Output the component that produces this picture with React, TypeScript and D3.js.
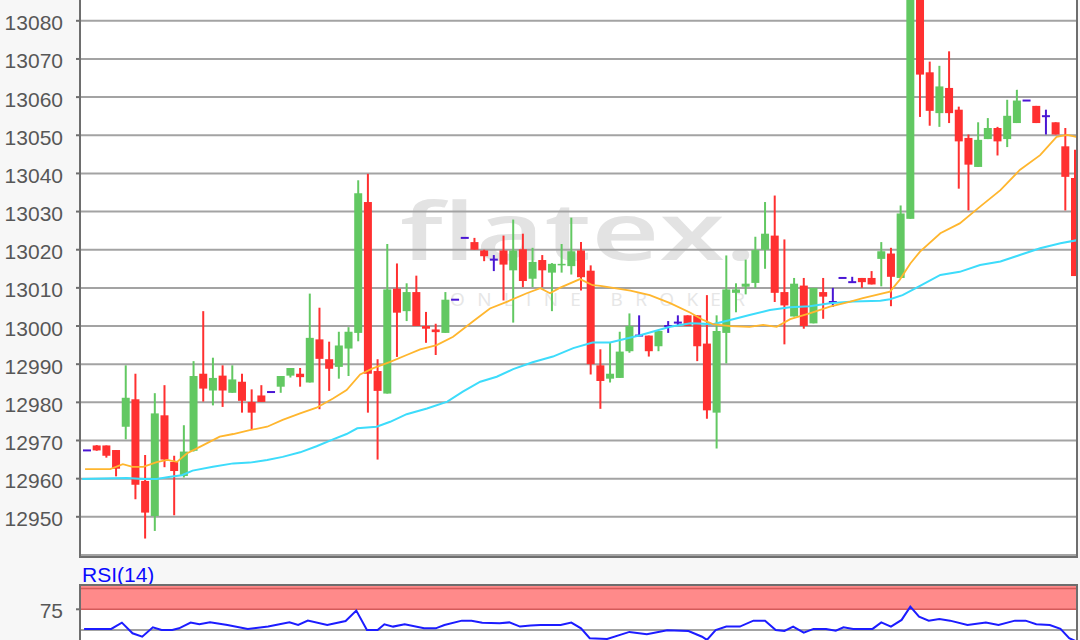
import React from "react";
import * as d3 from "d3";

// ---- price data (OHLC per bar) ----
const opens = [12967.4,12968.7,12968.7,12967.5,12973.6,12980.8,12959.4,12950.2,12976.6,12964.4,12960.7,12967.3,12987.5,12983.1,12987.0,12982.5,12985.4,12980.1,12981.8,12982.7,12984.1,12987.0,12987.5,12985.2,12996.5,12991.3,12989.3,12994.1,12998.2,13032.5,12988.2,12982.3,13009.8,13003.9,13008.9,13000.0,12999.1,12998.2,13006.9,13023.1,13022.0,13019.8,13017.4,13019.8,13014.6,13020.1,13012.4,13017.3,13014.0,13015.9,13015.7,13019.8,13014.5,12989.7,12986.2,12986.4,12993.4,12997.5,12997.5,12994.7,13000.0,13000.9,13002.8,13002.8,12995.4,12977.3,12998.2,13008.7,13010.3,13011.3,13020.0,13023.7,13008.9,13002.5,13010.6,13000.7,13008.9,13006.3,13012.6,13011.5,13012.6,13012.6,13017.6,13019.0,13012.6,13028.1,13093.0,13066.5,13055.8,13062.4,13056.7,13049.3,13041.7,13049.0,13051.9,13049.0,13053.2,13059.1,13057.7,13055.0,13053.4,13047.1,13038.8];
const highs = [12967.4,12968.8,12968.7,12967.5,12989.7,12987.5,12966.2,12982.4,12984.5,12966.0,12974.0,12990.8,13003.9,12991.7,12989.7,12989.7,12987.5,12983.4,12984.5,12982.7,12986.9,12989.0,12989.0,13008.5,13004.8,12995.9,12998.5,12999.7,13038.2,13039.9,12991.3,13021.5,13016.4,13011.2,13013.2,13003.7,13000.6,13008.9,13006.9,13023.1,13023.1,13020.0,13018.6,13023.7,13027.9,13024.2,13020.5,13018.6,13016.5,13021.5,13028.4,13022.0,13015.9,12993.9,12995.6,12998.5,13003.3,13002.8,12997.5,12998.7,13001.3,13002.8,13002.8,13002.8,13008.1,13002.8,13018.5,13011.2,13017.4,13023.4,13032.5,13034.2,13022.7,13012.6,13012.6,13010.0,13012.6,13010.0,13012.6,13012.9,13012.6,13014.4,13022.0,13020.5,13031.6,13100.0,13098.0,13069.3,13068.2,13072.0,13057.5,13050.2,13053.4,13054.5,13052.2,13059.3,13061.9,13059.1,13057.7,13056.7,13053.4,13051.9,13046.2];
const lows = [12967.4,12967.3,12965.5,12960.6,12970.3,12954.6,12944.3,12946.3,12963.0,12950.4,12960.3,12967.1,12980.2,12979.2,12978.8,12982.5,12977.3,12972.9,12980.1,12982.7,12982.5,12986.5,12984.1,12985.2,12978.2,12983.0,12986.2,12986.9,12996.0,12977.3,12965.0,12982.3,12991.9,13001.3,13000.0,12995.6,12992.4,12998.2,13006.9,13023.1,13020.0,13017.0,13014.4,13006.7,13000.9,13010.2,13010.2,13010.2,13003.9,13014.0,13013.5,13009.3,12987.3,12978.3,12985.2,12986.4,12993.0,12997.4,12992.0,12993.4,12998.2,13000.0,13000.0,12990.8,12975.7,12967.9,12990.2,13003.6,13008.3,13010.0,13015.0,13006.3,12995.2,13002.5,12999.3,13000.7,13001.9,13005.0,13012.6,13011.5,13010.0,13010.9,13010.4,13005.2,13012.6,13028.1,13054.8,13052.5,13052.2,13053.2,13036.0,13030.3,13041.7,13049.0,13044.7,13046.9,13053.2,13059.1,13053.2,13050.2,13050.2,13030.3,13013.1];
const closes = [12967.4,12967.4,12966.0,12962.6,12981.2,12958.4,12951.1,12977.1,12965.0,12962.0,12967.1,12986.9,12983.6,12986.4,12983.1,12986.0,12980.4,12977.3,12980.1,12982.7,12986.9,12989.0,12986.6,12996.9,12991.4,12988.8,12994.9,12998.5,13034.8,12987.5,12983.0,13009.6,13003.5,13008.9,13000.0,12999.3,12998.4,13006.9,13006.9,13023.1,13020.0,13018.3,13017.4,13016.1,13019.8,13011.8,13016.8,13014.6,13016.3,13016.3,13019.6,13012.8,12990.0,12985.6,12987.5,12993.3,13000.0,12997.5,12993.4,12998.7,13000.0,13000.9,13000.0,12994.7,12977.9,12998.7,13009.6,13009.6,13011.1,13019.9,13024.2,13008.7,13005.4,13011.1,13000.0,13010.0,13007.7,13006.3,13012.6,13011.5,13011.5,13010.9,13019.6,13012.9,13029.5,13094.0,13065.9,13056.4,13062.8,13055.8,13048.4,13042.3,13048.8,13051.9,13048.4,13055.1,13059.1,13059.1,13053.2,13055.0,13050.2,13039.1,13013.1];

// ---- moving averages (bar position, value) ----
const maFastT = [-0.2,2.4,3.7,4.7,5.8,7.2,8.3,9.3,10.3,11.7,13.7,15.1,16.8,18.6,20.2,22.0,23.7,25.4,26.8,28.2,29.5,31.3,33.0,34.4,36.1,37.8,39.9,41.6,43.4,45.4,46.8,47.8,48.8,50.9,52.2,53.0,56.1,58.1,60.2,62.3,63.6,64.6,66.4,68.4,69.8,71.2,72.6,74.6,76.7,78.8,80.1,82.9,83.9,85.0,86.0,88.1,90.1,92.2,94.3,96.3,98.4,100.1,101.2,102.2];
const maFastV = [12962.5,12962.5,12963.8,12963.1,12963.1,12964.3,12964.9,12964.4,12966.6,12968.4,12971.0,12971.7,12972.7,12973.6,12975.4,12977.1,12978.6,12981.0,12983.2,12987.3,12988.9,12990.6,12992.4,12993.9,12995.0,12997.2,13001.3,13004.6,13006.4,13008.6,13009.9,13008.6,13010.0,13012.3,13010.7,13010.5,13009.3,13008.1,13006.0,13003.5,13001.6,13000.5,13000.0,12999.8,13000.3,12999.8,13001.8,13003.3,13005.1,13006.4,13007.3,13009.0,13012.1,13016.4,13019.5,13024.3,13026.9,13031.3,13035.6,13040.9,13044.8,13049.6,13050.1,13049.5];
const maSlowT = [-0.5,4.1,5.8,7.2,8.6,9.8,10.9,13.0,15.1,16.8,18.6,20.2,22.0,23.7,25.4,26.8,27.9,29.9,31.3,33.0,35.1,37.2,38.8,40.6,42.3,44.0,46.0,48.1,50.2,52.2,54.0,57.1,60.2,62.3,64.6,66.4,68.4,70.5,72.6,74.6,76.7,79.1,81.9,82.9,84.2,86.0,88.1,90.1,92.2,94.3,96.3,98.4,100.5,102.2];
const maSlowV = [12959.9,12960.2,12959.9,12959.9,12960.5,12960.9,12962.1,12963.1,12964.0,12964.2,12964.9,12965.7,12966.9,12968.5,12970.3,12971.7,12973.2,12973.6,12974.9,12976.9,12978.4,12980.2,12982.8,12985.4,12986.7,12988.7,12990.5,12992.0,12994.2,12995.7,12995.7,12997.6,12999.8,13000.7,13000.5,13001.6,13002.9,13004.2,13004.9,13005.2,13006.0,13006.4,13006.6,13007.0,13008.1,13010.5,13013.4,13014.2,13016.0,13016.9,13018.6,13020.4,13021.7,13022.5];

// ---- RSI(14) (bar position, value) ----
const rsiT = [-0.3,2.5,3.6,4.7,5.7,6.8,7.7,8.8,9.5,10.7,11.6,12.7,14.5,16.6,18.7,20.9,21.8,22.8,24.8,26.7,27.8,28.9,30.0,30.7,31.6,32.8,34.8,36.0,36.9,38.7,39.7,40.8,42.6,43.6,44.7,45.8,46.8,48.9,50.0,51.0,51.9,53.7,56.0,57.8,59.9,62.1,63.5,64.0,64.9,66.0,67.4,68.8,70.0,71.1,72.0,72.9,74.0,75.0,76.3,77.3,78.1,79.1,81.1,82.0,83.0,84.1,85.0,85.9,86.9,88.0,89.1,90.9,92.8,94.1,95.8,96.9,98.0,99.4,100.5,101.4,102.2];
const rsiV = [51.3,51.3,58.9,46.0,41.9,53.3,50.0,50.0,52.0,58.9,56.9,59.2,56.1,51.3,54.1,59.2,56.1,61.3,56.1,60.9,73.4,50.0,50.0,56.9,54.1,56.9,52.0,52.0,56.1,61.3,61.3,58.9,58.1,59.2,54.1,55.3,56.1,56.1,58.9,52.0,40.0,39.2,47.7,44.8,49.6,48.8,41.9,38.0,50.0,54.1,54.1,61.3,61.3,50.0,48.8,54.1,46.8,51.3,51.3,49.2,53.3,51.3,51.3,59.2,54.1,62.2,78.2,66.1,61.3,63.3,61.3,56.1,58.9,56.1,61.3,61.3,56.9,56.1,51.3,40.0,36.0];

// ---- axes ----
const priceTickValues = [12950,12960,12970,12980,12990,13000,13010,13020,13030,13040,13050,13060,13070,13080];
const priceGridValues = [12940,12950,12960,12970,12980,12990,13000,13010,13020,13030,13040,13050,13060,13070,13080,13090];
const rsiTickValues = [75];
const rsiGridValues = [50];
const rsiBand = [75, 100];
const rsiLabel = "RSI(14)";

const W = 1080, H = 640;
const PL = 80, PR = 1077;
const MAIN_BOTTOM = 557;
const RSI_TOP = 585;

const GREEN = "#62c862";
const RED = "#ff3030";
const DOJI = "#4a16d4";
const FONT = "'Liberation Sans', Arial, sans-serif";

export default function App() {
  const n = opens.length;
  const x = d3.scaleLinear().domain([0, n - 1]).range([87, 1075]);
  const y = d3.scaleLinear().domain([12950, 13080]).range([516.8, 20.8]);
  const yr = d3.scaleLinear().domain([50, 75]).range([630, 609.3]);

  const pLine = d3.line<number>().x((_, i) => x(maFastT[i])).y(d => y(d));
  const sLine = d3.line<number>().x((_, i) => x(maSlowT[i])).y(d => y(d));
  const rLine = d3.line<number>().x((_, i) => x(rsiT[i])).y(d => yr(d));

  const bw = 8;

  return (
    <svg width={W} height={H} style={{ position: "fixed", left: 0, top: 0, display: "block" }}>
      <defs>
        <clipPath id="mainClip"><rect x={PL + 1} y={-50} width={PR - PL - 2} height={MAIN_BOTTOM + 50 - 1} /></clipPath>
        <clipPath id="rsiClip"><rect x={PL + 1} y={RSI_TOP + 1} width={PR - PL - 2} height={H - RSI_TOP} /></clipPath>
      </defs>
      <rect x={0} y={0} width={W} height={H} fill="#f7f7f7" />
      <rect x={PL} y={0} width={PR - PL} height={MAIN_BOTTOM} fill="#ffffff" />
      <rect x={PL} y={RSI_TOP} width={PR - PL} height={H - RSI_TOP} fill="#ffffff" />

      {/* watermark */}
      <g clipPath="url(#mainClip)">
        <text x={400} y={260} fontFamily="'Open Sans', 'DejaVu Sans', sans-serif" fontWeight={600} fontSize={80} fill="#e3e3e3" textLength={357} lengthAdjust="spacingAndGlyphs">flatex.</text>
        <text x={450} y={306} fontFamily="'Open Sans', 'DejaVu Sans', sans-serif" fontSize={19} fill="#e6e6e6" textLength={295} lengthAdjust="spacing">ONLINE BROKER</text>
      </g>

      {/* main grid */}
      <g clipPath="url(#mainClip)">
        {priceGridValues.map(v => (
          <line key={v} x1={PL} x2={PR} y1={y(v)} y2={y(v)} stroke="#a3a3a3" strokeWidth={2} />
        ))}
      </g>

      {/* candles */}
      <g clipPath="url(#mainClip)">
        {opens.map((o, i) => {
          const c = closes[i], h = highs[i], l = lows[i];
          const cx = x(i);
          const col = c > o ? GREEN : c < o ? RED : DOJI;
          const top = y(Math.max(o, c));
          const hgt = Math.abs(y(o) - y(c));
          return (
            <g key={i}>
              {h > l && <line x1={cx} x2={cx} y1={y(h)} y2={y(l)} stroke={col} strokeWidth={2} />}
              {c === o ? (
                <line x1={cx - bw / 2} x2={cx + bw / 2} y1={y(c)} y2={y(c)} stroke={col} strokeWidth={2} />
              ) : (
                <rect x={cx - bw / 2} y={top} width={bw} height={Math.max(1.5, hgt)} fill={col} />
              )}
            </g>
          );
        })}
        <path d={sLine(maSlowV) || ""} fill="none" stroke="#3ddcfb" strokeWidth={2} />
        <path d={pLine(maFastV) || ""} fill="none" stroke="#ffb62e" strokeWidth={1.8} />
      </g>

      {/* main frame + axis */}
      <line x1={PL} x2={PL} y1={0} y2={MAIN_BOTTOM + 1} stroke="#6e6e6e" strokeWidth={2} />
      <line x1={PR} x2={PR} y1={0} y2={MAIN_BOTTOM + 1} stroke="#6e6e6e" strokeWidth={2} />
      <line x1={PL - 1} x2={PR + 1} y1={MAIN_BOTTOM} y2={MAIN_BOTTOM} stroke="#6e6e6e" strokeWidth={2} />
      {priceTickValues.map(v => (
        <g key={v}>
          <line x1={PL - 4} x2={PL} y1={y(v)} y2={y(v)} stroke="#6e6e6e" strokeWidth={2} />
          <text x={63} y={y(v) + 9.5} textAnchor="end" fontFamily={FONT} fontSize={21} fill="#575757">{v}</text>
        </g>
      ))}

      {/* RSI panel */}
      <text x={82} y={581.5} fontFamily={FONT} fontSize={21} fill="#0a0aff">{rsiLabel}</text>
      <g clipPath="url(#rsiClip)">
        <rect x={PL} y={RSI_TOP} width={PR - PL} height={yr(rsiBand[0]) - RSI_TOP} fill="#ff8a8a" />
        {rsiBand.map(v => (
          <line key={v} x1={PL} x2={PR} y1={yr(v)} y2={yr(v)} stroke="#d45a5a" strokeWidth={1.5} />
        ))}
        {rsiGridValues.map(v => (
          <line key={v} x1={PL} x2={PR} y1={yr(v)} y2={yr(v)} stroke="#a3a3a3" strokeWidth={2} />
        ))}
        <path d={rLine(rsiV) || ""} fill="none" stroke="#1c1cff" strokeWidth={2} />
      </g>
      <line x1={PL - 1} x2={PR + 1} y1={RSI_TOP} y2={RSI_TOP} stroke="#6e6e6e" strokeWidth={2} />
      <line x1={PL} x2={PL} y1={RSI_TOP} y2={H} stroke="#6e6e6e" strokeWidth={2} />
      <line x1={PR} x2={PR} y1={RSI_TOP} y2={H} stroke="#6e6e6e" strokeWidth={2} />
      {rsiTickValues.map(v => (
        <g key={v}>
          <line x1={PL - 4} x2={PL} y1={yr(v)} y2={yr(v)} stroke="#6e6e6e" strokeWidth={2} />
          <text x={63} y={yr(v) + 9} textAnchor="end" fontFamily={FONT} fontSize={21} fill="#575757">{v}</text>
        </g>
      ))}
    </svg>
  );
}
